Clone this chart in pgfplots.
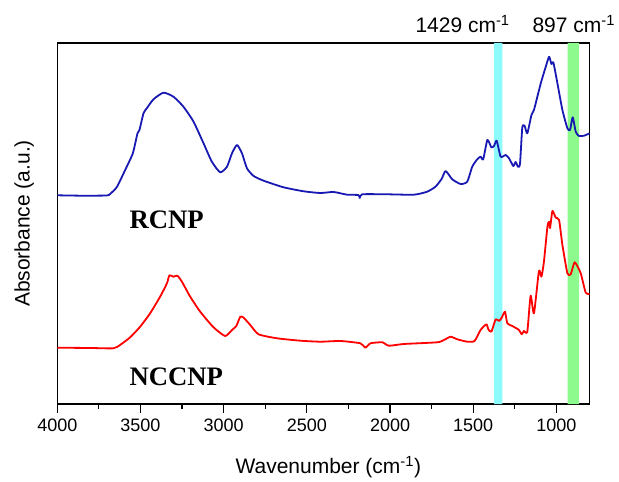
\documentclass[border=0pt]{standalone}
\usepackage{pgfplots}
\pgfplotsset{compat=1.18}
\usepackage{fontspec}
\setmainfont{Liberation Sans}
\newfontfamily\labelserif{Liberation Serif}

\definecolor{rcnpblue}{RGB}{24,24,178}
\definecolor{nccnpred}{RGB}{255,0,0}
\definecolor{bandcyan}{RGB}{140,250,250}
\definecolor{bandgreen}{RGB}{140,250,140}

% FTIR spectra: wavenumber (cm^-1) vs. absorbance (offset, arbitrary units)
\pgfplotstableread{
wn y
4000 208.7
3850 208.3
3703 208.5
3683 210
3642 217
3592 234
3546 250.7
3518 270.7
3506 274
3482 290.7
3462 295.7
3422 304.7
3362 311.3
3302 307.3
3242 297.3
3181 282.3
3121 260.7
3071 242.3
3021 231.7
2980 237.3
2950 250.7
2920 259
2890 250.7
2860 235.7
2820 228
2760 223.3
2640 216.7
2519 212.7
2420 211
2339 212
2258 209.3
2190 209
2182 206
2168 209.7
2017 209.7
1857 209.3
1777 212.3
1727 217.3
1690 225
1666 233
1626 224.7
1576 220
1536 222.3
1506 237.3
1476 244.7
1456 247.3
1440 244.7
1415 264
1391 256.7
1375 258
1359 263.3
1335 247.3
1305 249
1285 245.7
1259 238
1245 242
1231 237.3
1219 240
1205 276.7
1191 278
1175 270.7
1150 289
1135 294
1094 320.7
1064 337.3
1044 347.3
1030 340
1018 341.3
994 320.7
964 294
934 275.7
918 274
902 286.7
884 272.3
864 268
834 268.3
800 270.7
}\rcnp

\pgfplotstableread{
wn y
4000 56.3
3800 56
3663 55.7
3623 59
3562 66.7
3502 77.3
3442 90.7
3382 107.3
3341 120.7
3326 128.7
3302 127.3
3278 128.3
3251 122.3
3201 107.3
3141 92.3
3061 76.7
2991 68
2950 74
2924 78
2900 87.3
2880 86.3
2840 79
2790 69.7
2679 65.7
2539 63.3
2419 62.3
2298 63
2178 60.7
2148 56.3
2118 60.7
2047 61.7
2007 58.3
1917 60
1716 61.7
1676 64
1636 67.3
1596 64.7
1536 62.3
1492 63
1456 74
1421 79.7
1409 74.7
1391 72.3
1365 84.7
1345 83
1329 86.3
1309 92.3
1295 80.7
1265 78
1225 74
1209 69.7
1195 73
1175 72.3
1155 108.3
1135 90.7
1105 133
1090 127.3
1075 142.3
1054 177.3
1044 182.3
1038 176
1024 193
1004 186.3
984 184
964 159
934 130.7
914 129.7
890 141.7
854 130.7
824 111.3
800 110
}\nccnp

\begin{document}
\begin{tikzpicture}
\begin{axis}[
  at={(0,0)}, anchor=south west,
  scale only axis, width=532.4pt, height=361pt,
  xmin=800, xmax=4000, x dir=reverse,
  ymin=0, ymax=361,
  xtick={1000,1500,...,4000}, minor x tick num=1,
  ytick=\empty,
  xtick pos=bottom, tick align=outside,
  major tick length=9pt, minor tick length=5pt,
  axis line style={line width=1.2pt},
  every tick/.style={black, line width=1.2pt},
  ticklabel style={font=\fontsize{18}{21}\selectfont},
  xticklabel style={yshift=-2pt},
  /pgf/number format/assume math mode=true,
  /pgf/number format/1000 sep={},
  xlabel={Wavenumber (cm\textsuperscript{-1})},
  ylabel={Absorbance (a.u.)},
  label style={font=\fontsize{21}{25}\selectfont},
  xlabel style={at={(axis description cs:0.509,-0.1745)}, anchor=center},
  ylabel style={at={(axis description cs:-0.0624,0.5)}, anchor=center},
  clip=false,
]
% highlighted bands
\addplot[draw=none, fill=bandcyan, forget plot] coordinates {(1376,0) (1376,361) (1325,361) (1325,0)} \closedcycle;
\addplot[draw=none, fill=bandgreen, forget plot] coordinates {(932,0) (932,361) (864,361) (864,0)} \closedcycle;

% spectra
\addplot[rcnpblue, line width=1.8pt, line join=round, smooth, tension=0.35] table[x=wn, y=y] {\rcnp};
\addplot[nccnpred, line width=1.8pt, line join=round, smooth, tension=0.35] table[x=wn, y=y] {\nccnp};

% sample names
\node[font=\labelserif\bfseries\fontsize{26.7}{30}\selectfont, anchor=west, inner sep=0pt] at (axis cs:3567,184) {RCNP};
\node[font=\labelserif\bfseries\fontsize{26.7}{30}\selectfont, anchor=west, inner sep=0pt] at (axis cs:3567,27) {NCCNP};

% band positions
\node[font=\fontsize{21}{25}\selectfont, anchor=base] at (axis cs:1564,371) {1429 cm\textsuperscript{-1}};
\node[font=\fontsize{21}{25}\selectfont, anchor=base] at (axis cs:896,371) {897 cm\textsuperscript{-1}};
\end{axis}
\pgfresetboundingbox
\path (-57.3pt,-78pt) rectangle (561.7pt,404pt);
\end{tikzpicture}
\end{document}
